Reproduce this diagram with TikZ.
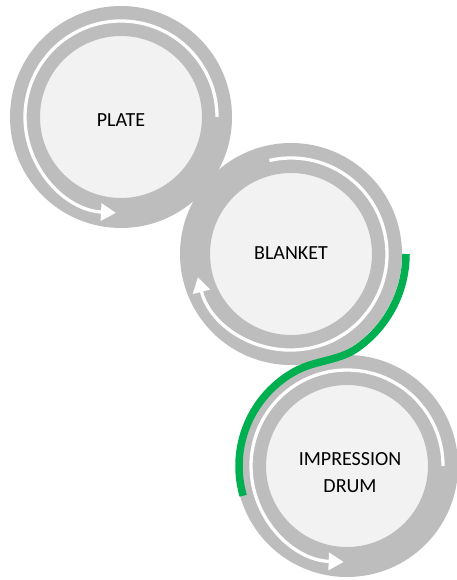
\documentclass[tikz,border=0pt]{standalone}
\usepackage{fontspec}
\setmainfont{Carlito}
\usetikzlibrary{arrows.meta,calc}
\definecolor{ringgray}{HTML}{BDBDBD}
\definecolor{discgray}{HTML}{F2F2F2}
\definecolor{webgreen}{HTML}{00B050}

\begin{document}
\begin{tikzpicture}[x=1pt, y=1pt,
  roller/.style={circle, draw=ringgray, line width=30pt, fill=discgray,
    minimum size=192pt, inner sep=0pt, outer sep=0pt},
  caption/.style={align=center, inner sep=0pt, font=\fontsize{20}{27}\selectfont},
  flow/.style={draw=white, line width=3.3pt,
    -{Triangle[width=17pt,length=15pt]}},
  web/.style={draw=webgreen, line width=7.5pt}]
  \useasboundingbox (0,0) rectangle (456,580);
  \fill[white] (0,0) rectangle (456,580);
  % the three cylinders, top to bottom
  \node[roller] (plate)   at (121,463) {};
  \node[roller] (blanket) at (291,326) {};
  \node[roller] (drum)    at (347,114) {};
  \node[caption] (platetext)   at ([yshift=-3pt]plate.center) {PLATE};
  \node[caption] (blankettext) at ([yshift=1pt]blanket.center) {BLANKET};
  \node[caption] (drumtext)    at ([xshift=3pt,yshift=-7pt]drum.center) {IMPRESSION\\DRUM};
  % direction of rotation
  \draw[flow] (plate.east) arc[start angle=0, end angle=267, radius=96pt];
  \draw[flow] (blanket.center) ++(103:96pt)
    arc[start angle=103, end angle=-166, radius=96pt];
  \draw[flow] (drum.east) arc[start angle=0, end angle=268, radius=96pt];
  % paper path between blanket and drum
  \draw[web] (blanket.center) ++(0:115pt)
    arc[start angle=0, end angle=-55, radius=115pt]
    .. controls +(-18,-12.6) and +(19.4,10.3) .. ($(drum.center)+(118:108pt)$)
    arc[start angle=118, end angle=196, radius=108pt];
\end{tikzpicture}
\end{document}
